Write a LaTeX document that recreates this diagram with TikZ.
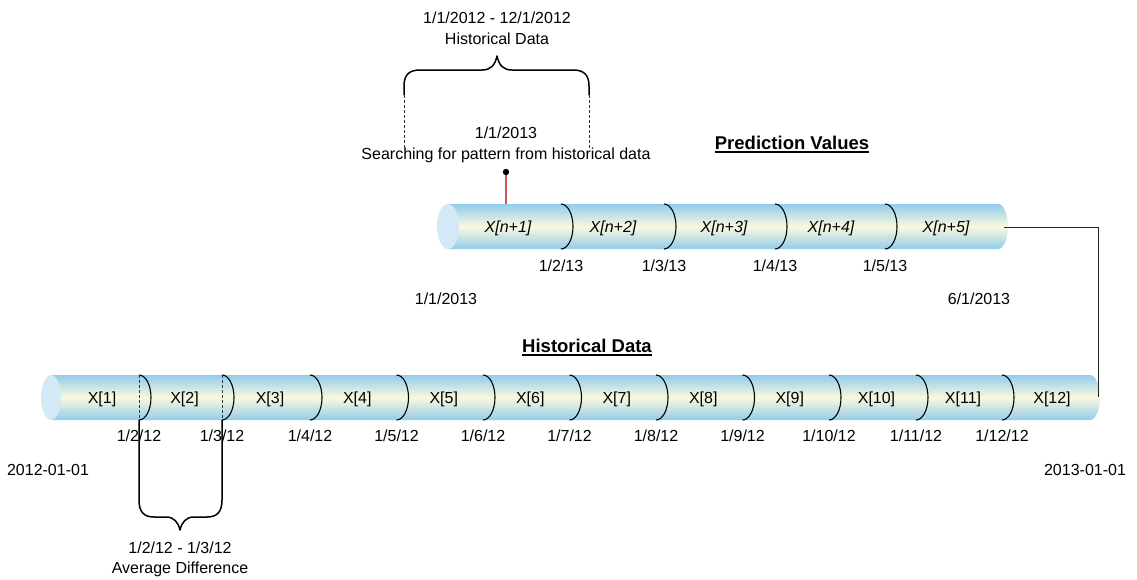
\documentclass[tikz,border=0pt]{standalone}
\usepackage{fontspec}
\setmainfont{Liberation Sans}
\definecolor{cylBlue}{RGB}{146,204,236}
\definecolor{cylCream}{RGB}{250,249,222}
\definecolor{capBlue}{RGB}{211,233,246}
\definecolor{redLine}{RGB}{204,85,85}
\begin{document}
\begin{tikzpicture}[x=1pt,y=-1pt,
  txt/.style={font=\fontsize{16}{19}\selectfont, inner sep=0pt, anchor=base},
  itxt/.style={txt, font=\fontsize{16}{19}\selectfont\itshape},
  ttl/.style={font=\fontsize{18.5}{22}\selectfont\bfseries, inner sep=0pt, anchor=base},
  sepline/.style={line width=1.1pt, black},
  dashline/.style={line width=0.9pt, black!80, dash pattern=on 3pt off 2pt},
  bracestroke/.style={line width=1.5pt, black, line join=round},
  link/.style={line width=0.9pt, black!85}]
\useasboundingbox (0,0) rectangle (1137,579);

% ---------- prediction cylinder ----------
\shade[top color=cylBlue, bottom color=cylBlue, middle color=cylCream]
  (448,204) -- (998,204) arc[start angle=90, end angle=-90, x radius=10pt, y radius=22.5pt]
  -- (448,249) -- cycle;
\fill[capBlue] (448,226.5) ellipse[x radius=11pt, y radius=22.5pt];
\foreach \s [count=\i] in {561,664,775,885} {
  \draw[sepline] (\s,204) arc[start angle=90, end angle=-90, x radius=12pt, y radius=22.5pt];
  \pgfmathtruncatemacro\m{\i+1}
  \node[txt] (pd\m) at (\s,271) {1/\m/13};
}
\foreach \x [count=\i] in {508,613,724,831,946}
  \node[itxt] (px\i) at (\x,232) {X[n+\i]};
\coordinate (predTop) at (506,204);
\coordinate (predEnd) at (1004,227);

% ---------- historical cylinder ----------
\shade[top color=cylBlue, bottom color=cylBlue, middle color=cylCream]
  (51,375) -- (1090,375) arc[start angle=90, end angle=-90, x radius=10pt, y radius=22.5pt]
  -- (51,420) -- cycle;
\fill[capBlue] (51,397.5) ellipse[x radius=10pt, y radius=22.5pt];
\foreach \s [count=\i] in {139,222,310,396.5,483,569.5,656,742.5,829,916,1002} {
  \draw[sepline] (\s,375) arc[start angle=90, end angle=-90, x radius=12pt, y radius=22.5pt];
  \pgfmathtruncatemacro\m{\i+1}
  \node[txt] (hd\m) at (\s,441) {1/\m/12};
}
\foreach \x [count=\i] in {102,184.5,270,357.25,443.75,530.25,616.75,703.25,789.75,876.5,963,1052}
  \node[txt] (hx\i) at (\x,403) {X[\i]};
\coordinate (histEnd) at (1098,397);

% ---------- titles ----------
\node[ttl] (predTitle) at (792,149) {Prediction Values};
\draw[line width=2pt] ([yshift=-3pt]predTitle.base west) -- ([yshift=-3pt]predTitle.base east);
\node[ttl] (histTitle) at (587,352) {Historical Data};
\draw[line width=2pt] ([yshift=-3pt]histTitle.base west) -- ([yshift=-3pt]histTitle.base east);

% ---------- range labels ----------
\node[txt] (predStart) at (446,304) {1/1/2013};
\node[txt] (predStop) at (979,304) {6/1/2013};
\node[txt] (histStart) at (48,475) {2012-01-01};
\node[txt] (histStop) at (1085,475) {2013-01-01};

% ---------- search marker ----------
\node[txt] (searchDate) at (506,138) {1/1/2013};
\node[txt] (searchText) at (506,159) {Searching for pattern from historical data};
\coordinate (searchDot) at (506,172);
\draw[redLine, line width=1.4pt] (searchDot) -- (predTop);
\fill (searchDot) circle[radius=3.2pt];

% ---------- brace over the historical window ----------
\coordinate (winL) at (404,95);
\coordinate (winR) at (589,95);
\draw[dashline] (winL) -- (404,148);
\draw[dashline] (winR) -- (589,148);
\draw[bracestroke] (winL) -- (404,86) .. controls (404,75) and (409,70) .. (420,70)
  -- (482,70) .. controls (491,70) and (495,65) .. (497,56)
  .. controls (499,65) and (503,70) .. (512,70)
  -- (573,70) .. controls (584,70) and (589,75) .. (589,86) -- (winR);
\node[txt] (winRange) at (497,23) {1/1/2012 - 12/1/2012};
\node[txt] (winLabel) at (497,44) {Historical Data};

% ---------- brace under the first interval ----------
\draw[dashline] (139,375) -- (139,420);
\draw[dashline] (222,375) -- (222,420);
\coordinate (ivL) at (139,420);
\coordinate (ivR) at (222,420);
\draw[bracestroke] (ivL) -- (139,500) .. controls (139,512) and (144,517) .. (154,517)
  -- (166,517) .. controls (174,517) and (178,522) .. (180,530)
  .. controls (182,522) and (186,517) .. (194,517)
  -- (207,517) .. controls (217,517) and (222,512) .. (222,500) -- (ivR);
\node[txt] (ivRange) at (180,553) {1/2/12 - 1/3/12};
\node[txt] (ivLabel) at (180,573) {Average Difference};

% ---------- link between the two series ----------
\draw[link] (predEnd) -| (histEnd);
\end{tikzpicture}
\end{document}
